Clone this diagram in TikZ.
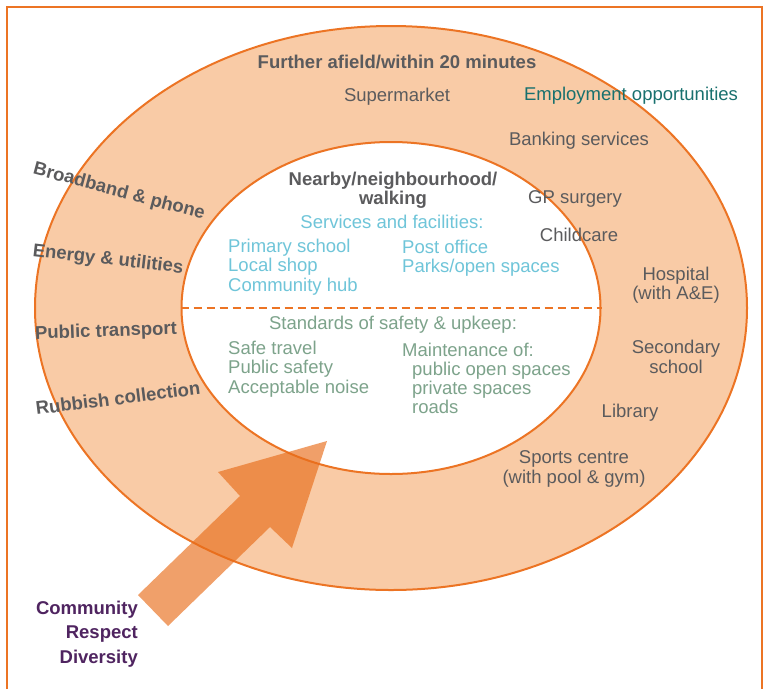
\documentclass[tikz,border=0pt]{standalone}
\usepackage{fontspec}
\setmainfont{Liberation Sans}
\usetikzlibrary{shapes.geometric}

\definecolor{lineorange}{HTML}{EC7424}
\definecolor{ringfill}{HTML}{F9CBA6}
\definecolor{arroworange}{HTML}{E86D1A}
\definecolor{textgrey}{HTML}{5B5B5D}
\definecolor{textteal}{HTML}{18706E}
\definecolor{textblue}{HTML}{6FC5D9}
\definecolor{textgreen}{HTML}{7DA38B}
\definecolor{textpurple}{HTML}{4F2460}

\begin{document}
\begin{tikzpicture}
  [x=1pt,y=-1pt,
   every node/.style={inner sep=0pt,text=textgrey,font=\fontsize{18.5}{19.3}\selectfont},
   label bold/.style={font=\fontsize{18.5}{19.3}\selectfont\bfseries,align=center},
   place/.style={align=center},
   service/.style={text=textblue,align=left},
   upkeep/.style={text=textgreen,align=left},
   zone/.style={ellipse,draw=lineorange,line width=2pt}]
  \useasboundingbox (0,0) rectangle (765,689);
  \draw[lineorange,line width=2.5pt] (7,689) -- (7,7) -- (762,7) -- (762,689);

  % rings
  \node[zone,fill=ringfill,minimum width=712,minimum height=564] (outer) at (391,308) {};
  \node[zone,fill=white,minimum width=419,minimum height=332] (inner) at (391,308) {};
  \draw[lineorange,line width=2pt,dash pattern=on 8pt off 5pt] (inner.west) -- (inner.east);

  % arrow
  \fill[arroworange,fill opacity=.65] (138,595) -- (240,496) -- (218,472) -- (327,441)
    -- (292,548) -- (270,527) -- (168,626) -- cycle;

  % further afield
  \node[label bold] (further) at (397,62) {Further afield/within 20 minutes};
  \node (super) at (397,97) {Supermarket};
  \node[text=textteal] (employ) at (631,96) {Employment opportunities};
  \node (bank) at (579,141) {Banking services};
  \node (gp) at (575,199) {GP surgery};
  \node (child) at (579,235) {Childcare};
  \node[place] (hosp) at (676,285) {Hospital\\(with A\&E)};
  \node[place] (second) at (676,357) {Secondary\\school};
  \node (library) at (630,413) {Library};
  \node[place] (sports) at (574,469) {Sports centre\\(with pool \& gym)};
  \foreach \name/\x/\y/\ang/\txt in {broad/119/192/-15/Broadband \& phone,
      energy/108/260/-6.5/Energy \& utilities,
      transport/106/332/2/Public transport,
      rubbish/118/398/7/Rubbish collection}
    \node[label bold,rotate=\ang] (\name) at (\x,\y) {\txt};

  % nearby
  \node[label bold] (nearby) at (393,190) {Nearby/neighbourhood/\\walking};
  \node[text=textblue] (services) at (392,222) {Services and facilities:};
  \node[service,anchor=west] (servleft) at (228,267) {Primary school\\Local shop\\Community hub};
  \node[service,anchor=west] (servright) at (402,258) {Post office\\Parks/open spaces};
  \node[text=textgreen] (standards) at (393,325) {Standards of safety \& upkeep:};
  \node[upkeep,anchor=west] (safety) at (228,369) {Safe travel\\Public safety\\Acceptable noise};
  \node[upkeep,anchor=west] (maint) at (402,350) {Maintenance of:};
  \node[upkeep,anchor=west] (maintlist) at (412,388) {public open spaces\\private spaces\\roads};

  % values
  \node[label bold,text=textpurple,align=right,anchor=east,
    font=\fontsize{18.5}{24.5}\selectfont\bfseries] (values) at (138,634) {Community\\Respect\\Diversity};
\end{tikzpicture}
\end{document}
